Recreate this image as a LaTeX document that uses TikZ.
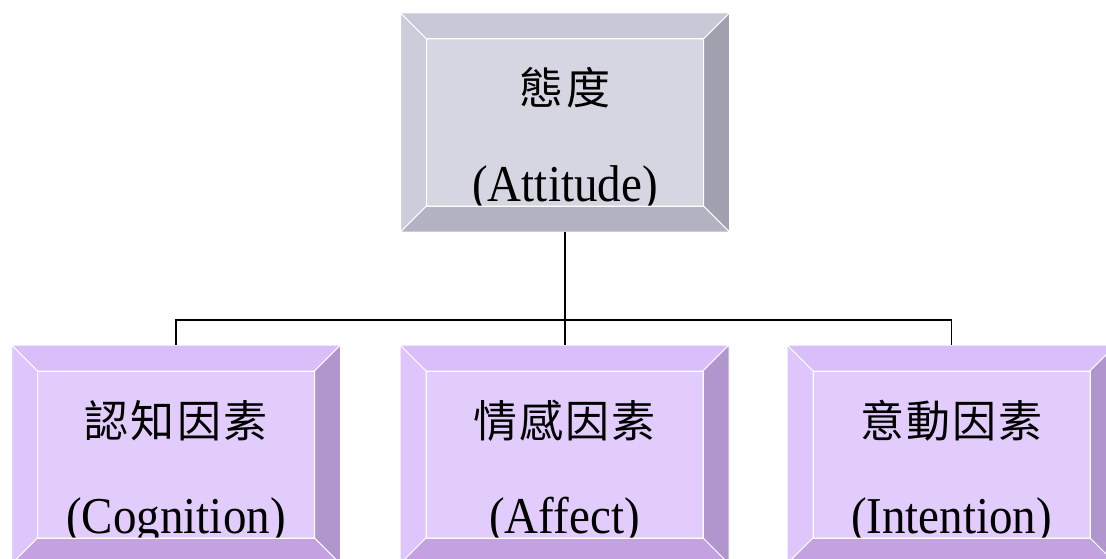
\documentclass[tikz,border=0pt]{standalone}
\usepackage{fontspec}
\setmainfont{Liberation Serif}
\newfontfamily\cjk[LetterSpace=5]{Noto Sans CJK TC}
\usetikzlibrary{calc}
\definecolor{gFace}{RGB}{214,214,226}
\definecolor{gTop}{RGB}{200,200,214}
\definecolor{gLeft}{RGB}{204,204,218}
\definecolor{gRight}{RGB}{160,160,174}
\definecolor{gBot}{RGB}{178,178,194}
\definecolor{pFace}{RGB}{226,204,252}
\definecolor{pTop}{RGB}{218,190,250}
\definecolor{pLeft}{RGB}{222,198,252}
\definecolor{pRight}{RGB}{176,150,204}
\definecolor{pBot}{RGB}{196,162,226}
\tikzset{
  boxnode/.style={minimum width=329pt,minimum height=219pt,inner sep=0pt,outer sep=0pt,draw=none},
  cjktext/.style={font=\cjk\fontsize{44}{50}\selectfont,anchor=base,inner sep=0pt},
  entext/.style={font=\fontsize{47}{52}\selectfont,anchor=base,inner sep=0pt},
  bev/.style={draw=white,line width=1pt,line join=miter},
  conn/.style={draw=black,line width=1.5pt}
}
% #1 name, #2 face, #3 top, #4 left, #5 right, #6 bottom, #7 cjk, #8 english
\newcommand\bevelbox[8]{%
  \fill[#2] ($(#1.north west)+(26pt,-26pt)$) rectangle ($(#1.south east)+(-26pt,26pt)$);
  \node[cjktext] (#1-zh) at ($(#1.north)+(0,-92pt)$) {#7};
  \node[entext] (#1-en) at ($(#1.north)+(0,-188pt)$) {\scalebox{1}[1.1]{#8}};
  \path[bev,fill=#3] (#1.north west) -- (#1.north east) -- ($(#1.north east)+(-26pt,-26pt)$) -- ($(#1.north west)+(26pt,-26pt)$) -- cycle;
  \path[bev,fill=#4] (#1.north west) -- ($(#1.north west)+(26pt,-26pt)$) -- ($(#1.south west)+(26pt,26pt)$) -- (#1.south west) -- cycle;
  \path[bev,fill=#5] (#1.north east) -- (#1.south east) -- ($(#1.south east)+(-26pt,26pt)$) -- ($(#1.north east)+(-26pt,-26pt)$) -- cycle;
  \path[bev,fill=#6] (#1.south west) -- ($(#1.south west)+(26pt,26pt)$) -- ($(#1.south east)+(-26pt,26pt)$) -- (#1.south east) -- cycle;
  \draw[white,line width=1pt] ($(#1.north west)+(26pt,-26pt)$) rectangle ($(#1.south east)+(-26pt,26pt)$);
}
\begin{document}
\begin{tikzpicture}[x=1pt,y=-1pt]
\useasboundingbox (0,0) rectangle (1106,559);
\begin{scope}
\clip (0,0) rectangle (1106,559);
\node[boxnode] (att) at (565,122.5) {};
\node[boxnode] (cog) at (176,454.5) {};
\node[boxnode] (aff) at (564.5,454.5) {};
\node[boxnode] (int) at (951.5,454.5) {};
\bevelbox{att}{gFace}{gTop}{gLeft}{gRight}{gBot}{態度}{(Attitude)}
\bevelbox{cog}{pFace}{pTop}{pLeft}{pRight}{pBot}{認知因素}{(Cognition)}
\bevelbox{aff}{pFace}{pTop}{pLeft}{pRight}{pBot}{情感因素}{(Affect)}
\bevelbox{int}{pFace}{pTop}{pLeft}{pRight}{pBot}{意動因素}{(Intention)}
\end{scope}
\draw[conn] (att.south) -- (att.south |- aff.north);
\draw[conn] (cog.north) -- ++(0,-25) -| (int.north);
\end{tikzpicture}
\end{document}
